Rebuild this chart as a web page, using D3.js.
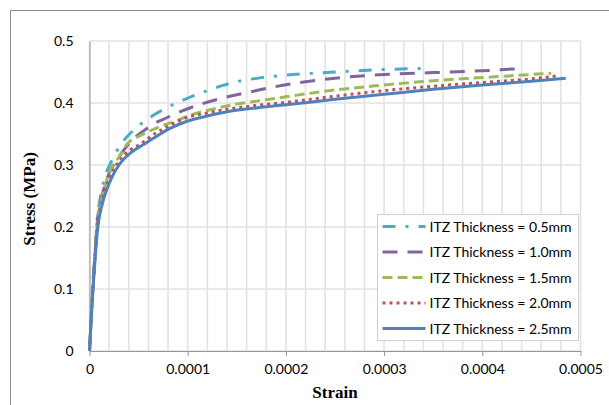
<!DOCTYPE html>
<html>
<head>
<meta charset="utf-8">
<script src="https://cdn.jsdelivr.net/npm/d3@7"></script>
<style>
  body { margin: 0; background: #fff; }
  svg { display: block; }
</style>
</head>
<body>
<div id="chart"></div>
<script>
// series values
var labels = ["ITZ Thickness = 0.5mm", "ITZ Thickness = 1.0mm", "ITZ Thickness = 1.5mm",
              "ITZ Thickness = 2.0mm", "ITZ Thickness = 2.5mm"];

var strain05 = [0, 2e-6, 4e-6, 6e-6, 8e-6, 1.12e-5, 1.6e-5, 2.3e-5, 3.15e-5, 4.4e-5, 6e-5, 7.7e-5, 9.6e-5, 1.15e-4, 1.35e-4, 1.55e-4, 1.76e-4, 2e-4, 2.5e-4, 3e-4, 3.43e-4];
var stress05 = [0, 0.065, 0.125, 0.17, 0.215, 0.249, 0.282, 0.308, 0.332, 0.355, 0.375, 0.391, 0.405, 0.417, 0.428, 0.436, 0.441, 0.445, 0.45, 0.454, 0.456];

var strain10 = [0, 2e-6, 4e-6, 6e-6, 8e-6, 1.2e-5, 1.8e-5, 2.8e-5, 4.35e-5, 5.5e-5, 6.5e-5, 7.7e-5, 8.8e-5, 1.13e-4, 1.38e-4, 1.64e-4, 1.88e-4, 2.1e-4, 2.5e-4, 3e-4, 3.5e-4, 4e-4, 4.34e-4];
var stress10 = [0, 0.06, 0.12, 0.165, 0.21, 0.245, 0.279, 0.308, 0.34, 0.355, 0.366, 0.375, 0.383, 0.398, 0.409, 0.418, 0.426, 0.432, 0.44, 0.446, 0.449, 0.452, 0.455];

var strain15 = [0, 2e-6, 4e-6, 6e-6, 8e-6, 1.3e-5, 2e-5, 3e-5, 3.9e-5, 5e-5, 6e-5, 7.5e-5, 8.8e-5, 1e-4, 1.2e-4, 1.45e-4, 1.7e-4, 2e-4, 2.5e-4, 3e-4, 3.5e-4, 4e-4, 4.5e-4, 4.7e-4];
var stress15 = [0, 0.06, 0.115, 0.16, 0.205, 0.248, 0.287, 0.313, 0.335, 0.346, 0.354, 0.364, 0.371, 0.379, 0.388, 0.397, 0.403, 0.41, 0.421, 0.429, 0.436, 0.441, 0.446, 0.448];

var strain20 = [0, 2e-6, 4e-6, 6e-6, 8e-6, 1.3e-5, 1.8e-5, 2.3e-5, 3e-5, 4.3e-5, 5.2e-5, 6.5e-5, 8.2e-5, 1e-4, 1.2e-4, 1.4e-4, 1.7e-4, 2e-4, 2.5e-4, 3e-4, 3.5e-4, 4e-4, 4.5e-4, 4.75e-4];
var stress20 = [0, 0.06, 0.115, 0.16, 0.2, 0.242, 0.268, 0.287, 0.306, 0.326, 0.334, 0.349, 0.364, 0.377, 0.384, 0.39, 0.396, 0.401, 0.411, 0.42, 0.427, 0.433, 0.439, 0.4435];

var strain25 = [0, 2e-6, 4e-6, 6e-6, 8.5e-6, 1.3e-5, 1.8e-5, 2.3e-5, 3e-5, 4.3e-5, 5.5e-5, 6.5e-5, 8.2e-5, 1e-4, 1.2e-4, 1.4e-4, 1.7e-4, 2e-4, 2.5e-4, 3e-4, 3.5e-4, 4e-4, 4.5e-4, 4.85e-4];
var stress25 = [0, 0.06, 0.11, 0.155, 0.2, 0.237, 0.262, 0.281, 0.3, 0.321, 0.333, 0.343, 0.359, 0.371, 0.379, 0.386, 0.392, 0.397, 0.406, 0.414, 0.422, 0.429, 0.435, 0.44];

var xTicks = [0, 0.0001, 0.0002, 0.0003, 0.0004, 0.0005];
var xTickLabels = ["0", "0.0001", "0.0002", "0.0003", "0.0004", "0.0005"];
var xMinorTicks = [0, 0.00002, 0.00004, 0.00006, 0.00008, 0.0001, 0.00012, 0.00014, 0.00016, 0.00018,
                   0.0002, 0.00022, 0.00024, 0.00026, 0.00028, 0.0003, 0.00032, 0.00034, 0.00036, 0.00038,
                   0.0004, 0.00042, 0.00044, 0.00046, 0.00048, 0.0005];
var yTicks = [0, 0.1, 0.2, 0.3, 0.4, 0.5];
var yTickLabels = ["0", "0.1", "0.2", "0.3", "0.4", "0.5"];

var colors = ["#4bacc6", "#8064a2", "#9bbb59", "#c0504d", "#4f81bd"];
var dashes = ["13,10,3,10", "15,10", "10,5", "3,4", null];

var series = [
  [strain05, stress05], [strain10, stress10], [strain15, stress15],
  [strain20, stress20], [strain25, stress25]
].map(function(s, i) {
  return {
    name: labels[i],
    color: colors[i],
    dash: dashes[i],
    values: s[0].map(function(x, j) { return [x, s[1][j]]; })
  };
});

var margin = {top: 41, right: 28.5, bottom: 54, left: 89.5},
    width = 609 - margin.left - margin.right,
    height = 405 - margin.top - margin.bottom;

var x = d3.scaleLinear().domain([0, 0.0005]).range([0, width]);
var y = d3.scaleLinear().domain([0, 0.5]).range([height, 0]);

var root = d3.select("#chart").append("svg")
    .attr("width", 609)
    .attr("height", 405);

// outer chart border
root.append("rect")
    .attr("x", 10.5).attr("y", 10.5)
    .attr("width", 640).attr("height", 440)
    .attr("fill", "none")
    .attr("stroke", "#8c8c8c");

var svg = root.append("g")
    .attr("transform", "translate(" + margin.left + "," + margin.top + ")");

// vertical gridlines every 0.00002
svg.selectAll(".vgrid")
    .data(xMinorTicks)
  .enter().append("line")
    .attr("class", "vgrid")
    .attr("x1", function(d) { return x(d); })
    .attr("x2", function(d) { return x(d); })
    .attr("y1", 0).attr("y2", height)
    .attr("stroke", "#e2e2e2")
    .attr("stroke-width", 1.6);

// horizontal gridlines
svg.selectAll(".hgrid")
    .data(yTicks)
  .enter().append("line")
    .attr("class", "hgrid")
    .attr("x1", 0).attr("x2", width)
    .attr("y1", function(d) { return y(d); })
    .attr("y2", function(d) { return y(d); })
    .attr("stroke", "#e2e2e2")
    .attr("stroke-width", 1.6);

// x axis
svg.append("g")
    .attr("transform", "translate(0," + height + ")")
    .call(d3.axisBottom(x).tickValues(xTicks).tickSizeInner(5).tickSizeOuter(0).tickPadding(8)
      .tickFormat(function(d, i) { return xTickLabels[i]; }))
    .call(function(g) {
      g.select(".domain").attr("stroke", "#969696");
      g.selectAll("line").attr("stroke", "#969696");
      g.selectAll("text").attr("font-family", "Lato, sans-serif").attr("font-size", 14).attr("fill", "#000");
    });

// y axis
svg.append("g")
    .call(d3.axisLeft(y).tickValues(yTicks).tickSize(0).tickPadding(16)
      .tickFormat(function(d, i) { return yTickLabels[i]; }))
    .call(function(g) {
      g.select(".domain").attr("stroke", "#969696");
      g.selectAll("text").attr("font-family", "Lato, sans-serif").attr("font-size", 14).attr("fill", "#000");
    });

var line = d3.line()
    .x(function(d) { return x(d[0]); })
    .y(function(d) { return y(d[1]); })
    .curve(d3.curveMonotoneX);

svg.selectAll(".series")
    .data(series)
  .enter().append("path")
    .attr("class", "series")
    .attr("d", function(d) { return line(d.values); })
    .attr("fill", "none")
    .attr("stroke", function(d) { return d.color; })
    .attr("stroke-width", 3)
    .attr("stroke-dasharray", function(d) { return d.dash; });

// legend
var legend = root.append("g").attr("transform", "translate(377.5,214.5)");
legend.append("rect")
    .attr("width", 201).attr("height", 126)
    .attr("fill", "#fff")
    .attr("stroke", "#d0d0d0");

var item = legend.selectAll(".item")
    .data(series)
  .enter().append("g")
    .attr("class", "item")
    .attr("transform", function(d, i) { return "translate(0," + (12 + i * 25.5) + ")"; });

item.append("line")
    .attr("x1", 5).attr("x2", 48)
    .attr("stroke", function(d) { return d.color; })
    .attr("stroke-width", 3)
    .attr("stroke-dasharray", function(d) { return d.dash; });

item.append("text")
    .attr("x", 52).attr("y", 5)
    .attr("font-family", "Lato, sans-serif")
    .attr("font-size", 14)
    .text(function(d) { return d.name; });

// axis titles
root.append("text")
    .attr("x", margin.left + width / 2)
    .attr("y", 398)
    .attr("text-anchor", "middle")
    .attr("font-family", "Liberation Serif, serif")
    .attr("font-weight", "bold")
    .attr("font-size", 17)
    .text("Strain");

root.append("text")
    .attr("transform", "translate(35,199) rotate(-90)")
    .attr("text-anchor", "middle")
    .attr("font-family", "Liberation Serif, serif")
    .attr("font-weight", "bold")
    .attr("font-size", 17)
    .text("Stress (MPa)");
</script>
</body>
</html>
